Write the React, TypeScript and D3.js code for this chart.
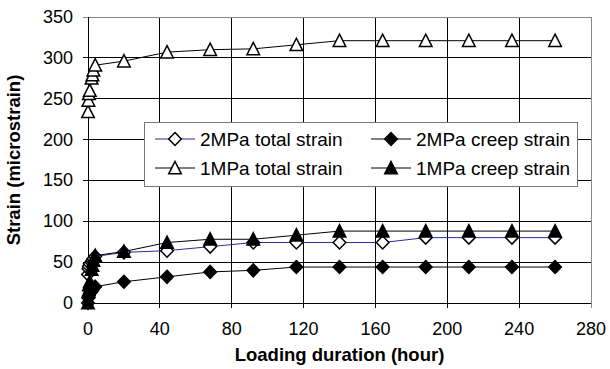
import { useEffect, useRef } from 'react';
import * as d3 from 'd3';

// loading time in hours, shared by all four series
const hours = [0, 0.25, 0.5, 1, 2, 2.5, 3, 4, 20, 44, 68, 92, 116, 140, 164, 188, 212, 236, 260];
const total2MPa = [35, 42, 45, 48, 50, 52, 54, 57, 62, 64, 69, 74, 74, 74, 74, 80, 80, 80, 80];
const creep2MPa = [0, 6, 9, 12, 14, 16, 18, 20, 26, 32, 38, 40, 44, 44, 44, 44, 44, 44, 44];
const total1MPa = [234, 248, 256, 260, 275, 279, 285, 291, 296, 307, 310, 311, 316, 321, 321, 321, 321, 321, 321];
const creep1MPa = [0, 14, 22, 26, 41, 46, 52, 58, 63, 74, 78, 78, 83, 88, 88, 88, 88, 88, 88];

const xTicks = [0, 40, 80, 120, 160, 200, 240, 280];
const yTicks = [0, 50, 100, 150, 200, 250, 300, 350];

type Marker = 'diamond' | 'triangle';
const series: { name: string; values: number[]; color: string; marker: Marker; filled: boolean }[] = [
  { name: '2MPa total strain', values: total2MPa, color: '#2b2b9c', marker: 'diamond', filled: false },
  { name: '2MPa creep strain', values: creep2MPa, color: '#000', marker: 'diamond', filled: true },
  { name: '1MPa total strain', values: total1MPa, color: '#000', marker: 'triangle', filled: false },
  { name: '1MPa creep strain', values: creep1MPa, color: '#000', marker: 'triangle', filled: true },
];

function markerPath(m: Marker) {
  if (m === 'diamond') return 'M0,-6.5L6.3,0L0,6.5L-6.3,0Z';
  return 'M0,-6.5L6.3,5.8L-6.3,5.8Z';
}

export default function App() {
  const svgRef = useRef<SVGSVGElement | null>(null);

  useEffect(() => {
    if (!svgRef.current) return;
    const svg = d3.select(svgRef.current);
    svg.selectAll('*').remove();

    const width = 610;
    const height = 369;
    const margin = { top: 17, right: 19, bottom: 66, left: 88 };
    const font = 'Liberation Sans, Arial, sans-serif';

    const x = d3.scaleLinear().domain([0, 280]).range([margin.left, width - margin.right]);
    const y = d3.scaleLinear().domain([0, 350]).range([height - margin.bottom, margin.top]);

    svg.attr('width', width).attr('height', height);

    // --- GRID ---
    const grid = svg.append('g').attr('shape-rendering', 'crispEdges');
    grid.selectAll('line.h')
      .data(yTicks.filter(d => d > 0 && d < 350))
      .enter().append('line')
      .attr('x1', x(0) - 5).attr('x2', x(280))
      .attr('y1', d => y(d)).attr('y2', d => y(d))
      .attr('stroke', '#000');
    grid.selectAll('line.v')
      .data(xTicks.filter(d => d > 0 && d < 280))
      .enter().append('line')
      .attr('x1', d => x(d)).attr('x2', d => x(d))
      .attr('y1', y(350)).attr('y2', y(0) + 5)
      .attr('stroke', '#000');

    // plot border (gray top/right)
    grid.append('line').attr('x1', x(0) - 5).attr('x2', x(280)).attr('y1', y(350)).attr('y2', y(350)).attr('stroke', '#888');
    grid.append('line').attr('x1', x(280)).attr('x2', x(280)).attr('y1', y(350)).attr('y2', y(0) + 5).attr('stroke', '#888');

    // axes
    grid.append('line').attr('x1', x(0)).attr('x2', x(0)).attr('y1', y(350)).attr('y2', y(0) + 5).attr('stroke', '#000');
    grid.append('line').attr('x1', x(0) - 5).attr('x2', x(280)).attr('y1', y(0)).attr('y2', y(0)).attr('stroke', '#000');

    // tick labels
    svg.append('g').selectAll('text')
      .data(yTicks).enter().append('text')
      .attr('x', x(0) - 15).attr('y', d => y(d) + 6)
      .attr('text-anchor', 'end')
      .attr('font-family', font).attr('font-size', 18)
      .text(d => d);
    svg.append('g').selectAll('text')
      .data(xTicks).enter().append('text')
      .attr('x', d => x(d)).attr('y', y(0) + 32)
      .attr('text-anchor', 'middle')
      .attr('font-family', font).attr('font-size', 18)
      .text(d => d);

    // axis titles
    svg.append('text')
      .attr('x', (x(0) + x(280)) / 2).attr('y', 361)
      .attr('text-anchor', 'middle')
      .attr('font-family', font).attr('font-size', 18.5).attr('font-weight', 'bold')
      .text('Loading duration (hour)');
    svg.append('text')
      .attr('transform', `translate(20,${(y(0) + y(350)) / 2}) rotate(-90)`)
      .attr('text-anchor', 'middle')
      .attr('font-family', font).attr('font-size', 18.5).attr('font-weight', 'bold')
      .text('Strain (microstrain)');

    // --- SERIES ---
    const line = d3.line<number>().x((_, i) => x(hours[i])).y(d => y(d));
    series.forEach(s => {
      const g = svg.append('g');
      g.append('path')
        .attr('d', line(s.values))
        .attr('fill', 'none')
        .attr('stroke', s.color)
        .attr('stroke-width', 1);
      g.selectAll('path.m')
        .data(s.values).enter().append('path')
        .attr('transform', (d, i) => `translate(${x(hours[i])},${y(d)})`)
        .attr('d', markerPath(s.marker))
        .attr('fill', s.filled ? '#000' : '#fff')
        .attr('stroke', '#000')
        .attr('stroke-width', 1.5);
    });

    // --- LEGEND ---
    const lg = svg.append('g');
    lg.append('rect')
      .attr('x', 144.5).attr('y', 122.5).attr('width', 433).attr('height', 64)
      .attr('fill', '#fff').attr('stroke', '#777');
    const cols = [155, 371];
    const rows = [139, 168];
    series.forEach((s, i) => {
      const cx = cols[i % 2];
      const cy = rows[Math.floor(i / 2)];
      lg.append('line')
        .attr('x1', cx).attr('x2', cx + 40).attr('y1', cy).attr('y2', cy)
        .attr('stroke', s.color);
      lg.append('path')
        .attr('transform', `translate(${cx + 20},${cy})`)
        .attr('d', markerPath(s.marker))
        .attr('fill', s.filled ? '#000' : '#fff')
        .attr('stroke', '#000').attr('stroke-width', 1.5);
      lg.append('text')
        .attr('x', cx + 45).attr('y', cy + 6.5)
        .attr('font-family', font).attr('font-size', 19)
        .text(s.name);
    });
  }, []);

  return (
    <svg ref={svgRef} width={610} height={369}
      style={{ position: 'absolute', left: 0, top: 0, background: '#fff' }} />
  );
}
